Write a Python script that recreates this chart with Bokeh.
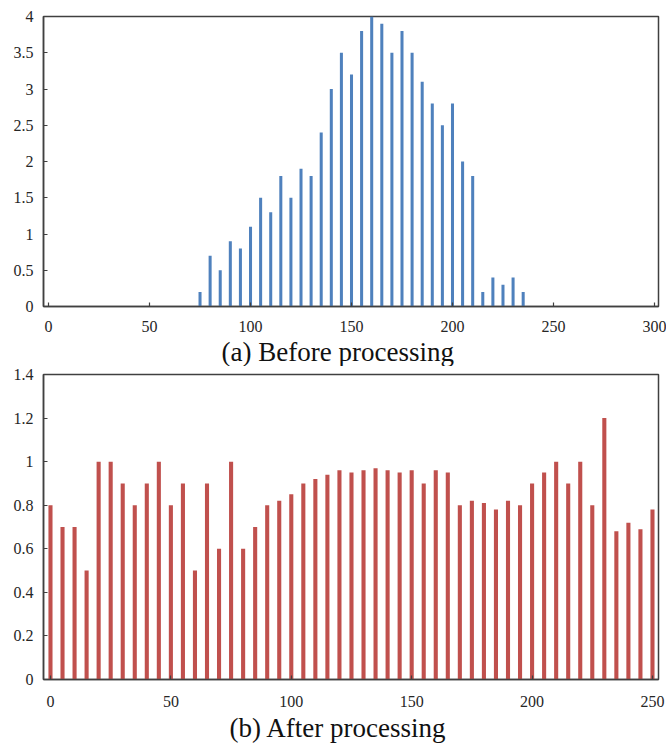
from bokeh.plotting import figure
from bokeh.layouts import column
from bokeh.models import Range1d, FixedTicker, CustomJSTickFormatter, Title
from bokeh.embed import file_html
from bokeh.resources import INLINE

# ---- data: (a) before processing ----
before_x = [75, 80, 85, 90, 95, 100, 105, 110, 115, 120, 125, 130, 135, 140, 145, 150,
            155, 160, 165, 170, 175, 180, 185, 190, 195, 200, 205, 210, 215, 220, 225, 230, 235]
before_y = [0.2, 0.7, 0.5, 0.9, 0.8, 1.1, 1.5, 1.3, 1.8, 1.5, 1.9, 1.8, 2.4, 3.0, 3.5, 3.2,
            3.8, 4.0, 3.9, 3.5, 3.8, 3.5, 3.1, 2.8, 2.5, 2.8, 2.0, 1.8, 0.2, 0.4, 0.3, 0.4, 0.2]
before_xticks = [0, 50, 100, 150, 200, 250, 300]
before_yticks = [0, 0.5, 1, 1.5, 2, 2.5, 3, 3.5, 4]

# ---- data: (b) after processing ----
after_x = list(range(0, 255, 5))
after_y = [0.8, 0.7, 0.7, 0.5, 1.0, 1.0, 0.9, 0.8, 0.9, 1.0, 0.8, 0.9, 0.5, 0.9, 0.6, 1.0,
           0.6, 0.7, 0.8, 0.82, 0.85, 0.9, 0.92, 0.94, 0.96, 0.95, 0.96, 0.97, 0.96, 0.95,
           0.96, 0.9, 0.96, 0.95, 0.8, 0.82, 0.81, 0.78, 0.82, 0.8, 0.9, 0.95, 1.0, 0.9,
           1.0, 0.8, 1.2, 0.68, 0.72, 0.69, 0.78]
after_xticks = [0, 50, 100, 150, 200, 250]
after_yticks = [0, 0.2, 0.4, 0.6, 0.8, 1.0, 1.2, 1.4]

FONT = "'Liberation Serif'"
AXIS_COL = "#404040"
fmt = CustomJSTickFormatter(code="return String(Math.round(tick*10)/10)")


def make_fig(height, top, bottom, xr, yr, xticks, yticks, xs, ys, bw, color,
             caption, cap_off, x_standoff, cap_standoff):
    p = figure(width=666, height=height, output_backend="svg", toolbar_location=None,
               title=None, x_range=Range1d(*xr), y_range=Range1d(*yr),
               min_border_left=43, min_border_right=8, min_border_top=top,
               min_border_bottom=bottom)
    p.vbar(x=xs, top=ys, width=bw, bottom=0, fill_color=color, line_color=None)
    p.xgrid.visible = False
    p.ygrid.visible = False
    p.outline_line_color = AXIS_COL
    p.outline_line_width = 1.5
    for ax in (p.xaxis[0], p.yaxis[0]):
        ax.axis_line_color = AXIS_COL
        ax.axis_line_width = 1.5
        ax.major_tick_line_color = AXIS_COL
        ax.major_tick_line_width = 1.2
        ax.major_tick_out = 0
        ax.major_tick_in = 4
        ax.minor_tick_line_color = None
        ax.major_label_text_font = FONT
        ax.major_label_text_font_size = "16px"
        ax.major_label_text_color = "#262626"
        ax.formatter = fmt
    p.xaxis[0].ticker = FixedTicker(ticks=xticks)
    p.yaxis[0].ticker = FixedTicker(ticks=yticks)
    p.xaxis[0].major_label_standoff = x_standoff
    p.yaxis[0].major_label_standoff = 10
    t = Title(text=caption, align="left", offset=cap_off, text_font=FONT,
              text_font_size="27px", text_font_style="normal", text_color="#111111",
              standoff=cap_standoff)
    p.add_layout(t, "below")
    return p


p1 = make_fig(366, 16, 60, (-2.5, 302), (0, 4), before_xticks, before_yticks,
              before_x, before_y, 1.5, "#4F81BD", "(a) Before processing", 178, 14, 0)
p2 = make_fig(377, 8, 63, (-2.9, 252.5), (0, 1.4), after_xticks, after_yticks,
              after_x, after_y, 1.7, "#C0504D", "(b) After processing", 186, 16, 2)

layout = column(p1, p2, spacing=0)
open("out.html", "w").write(file_html(layout, INLINE))
